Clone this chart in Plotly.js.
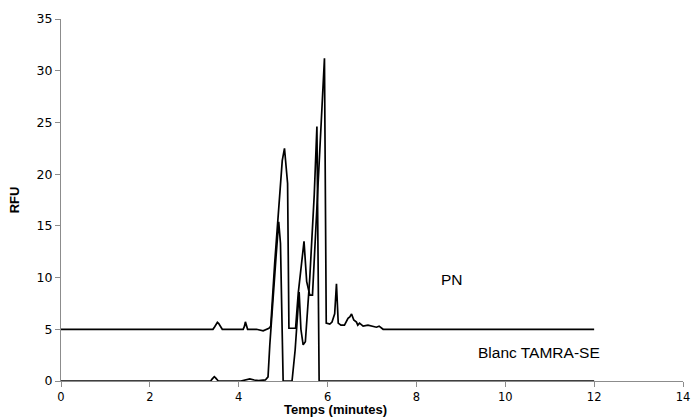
<!DOCTYPE html>
<html>
<head>
<meta charset="utf-8">
<script src="https://cdn.plot.ly/plotly-3.0.1.min.js"></script>
<style>html,body{margin:0;padding:0;background:#fff;}#chart{width:692px;height:417px;}</style>
</head>
<body>
<div id="chart"></div>
<script>
// PN trace (time in minutes, RFU)
const timePN = [0, 3.42, 3.46, 3.49, 3.52, 3.55, 3.59, 3.63, 4.10, 4.13, 4.15, 4.17, 4.20, 4.40, 4.55, 4.68, 4.72, 4.81, 4.94, 4.98, 5.03, 5.10, 5.13, 5.28, 5.34, 5.41, 5.47, 5.53, 5.60, 5.66, 5.80, 5.93, 5.97, 6.05, 6.10, 6.16, 6.20, 6.24, 6.30, 6.38, 6.46, 6.50, 6.54, 6.59, 6.65, 6.68, 6.72, 6.80, 6.91, 6.98, 7.10, 7.16, 7.25, 12];
const rfuPN  = [5.0, 5.0, 5.25, 5.55, 5.67, 5.55, 5.2, 5.0, 5.0, 5.3, 5.72, 5.3, 5.0, 5.0, 4.85, 5.1, 5.3, 11.4, 19.4, 21.3, 22.5, 19.1, 5.1, 5.1, 8.5, 11.4, 13.5, 9.6, 8.3, 8.3, 19.5, 31.2, 5.6, 5.5, 5.7, 6.5, 9.4, 5.6, 5.4, 5.4, 6.06, 6.2, 6.48, 5.9, 5.7, 5.4, 5.6, 5.3, 5.4, 5.3, 5.2, 5.3, 5.0, 5.0];

// Blanc TAMRA-SE trace
const timeBlanc = [0, 3.37, 3.40, 3.43, 3.45, 3.48, 3.51, 3.54, 4.05, 4.15, 4.25, 4.35, 4.45, 4.60, 4.66, 4.70, 4.77, 4.84, 4.90, 4.94, 5.00, 5.20, 5.27, 5.33, 5.36, 5.40, 5.45, 5.50, 5.60, 5.70, 5.76, 5.81, 12];
const rfuBlanc  = [0, 0, 0.18, 0.38, 0.42, 0.3, 0.1, 0, 0, 0.1, 0.2, 0.1, 0.03, 0.1, 0.4, 3.5, 8.1, 12.0, 15.4, 13.3, 0, 0, 3.0, 7.2, 8.6, 5.0, 3.5, 3.8, 10.0, 18.0, 24.6, 0, 0];

const labelPN = "PN";
const labelBlanc = "Blanc TAMRA-SE";
const xTicks = [0, 2, 4, 6, 8, 10, 12, 14];
const yTicks = [0, 5, 10, 15, 20, 25, 30, 35];

const lineStyle = {color: '#000000', width: 1.7};
const traces = [
  {x: timePN, y: rfuPN, mode: 'lines', line: lineStyle, name: labelPN, hoverinfo: 'skip'},
  {x: timeBlanc, y: rfuBlanc, mode: 'lines', line: lineStyle, name: labelBlanc, hoverinfo: 'skip'}
];

const axisColor = '#8c8c8c';
const yTickFont = {family: 'DejaVu Sans, Verdana, sans-serif', size: 12.5, color: '#000'};
const xTickFont = {family: 'DejaVu Sans, Verdana, sans-serif', size: 11.5, color: '#000'};
const labelFont = {family: 'Liberation Sans, Arial, sans-serif', size: 15.5, color: '#000'};
const layout = {
  width: 692, height: 417,
  margin: {l: 61, r: 9, t: 19, b: 36},
  paper_bgcolor: '#ffffff', plot_bgcolor: '#ffffff',
  showlegend: false,
  xaxis: {
    range: [0, 14], tickvals: xTicks, ticktext: xTicks.map(String),
    showgrid: false, zeroline: false, showline: true, linecolor: axisColor, linewidth: 1,
    ticks: 'outside', ticklen: 5, tickcolor: axisColor, tickfont: xTickFont, fixedrange: true,
    ticklabelstandoff: 0
  },
  yaxis: {
    range: [0, 35], tickvals: yTicks, ticktext: yTicks.map(String),
    showgrid: false, zeroline: false, showline: true, linecolor: axisColor, linewidth: 1,
    ticks: 'outside', ticklen: 5, tickcolor: axisColor, tickfont: yTickFont, fixedrange: true,
    title: {text: '<b>RFU</b>', font: {family: 'Liberation Sans, Arial, sans-serif', size: 13, color: '#000'}, standoff: 14}
  },
  annotations: [
    {x: 6.17, xref: 'x', y: -0.078, yref: 'paper', text: '<b>Temps (minutes)</b>', showarrow: false,
     font: {family: 'Liberation Sans, Arial, sans-serif', size: 13, color: '#000'}, yanchor: 'middle', borderpad: 0},
    {x: 8.81, xref: 'x', y: 9.86, yref: 'y', text: labelPN, showarrow: false, font: labelFont},
    {x: 10.75, xref: 'x', y: 2.76, yref: 'y', text: labelBlanc, showarrow: false, font: labelFont}
  ]
};

Plotly.newPlot('chart', traces, layout, {displayModeBar: false, staticPlot: true});
</script>
</body>
</html>
